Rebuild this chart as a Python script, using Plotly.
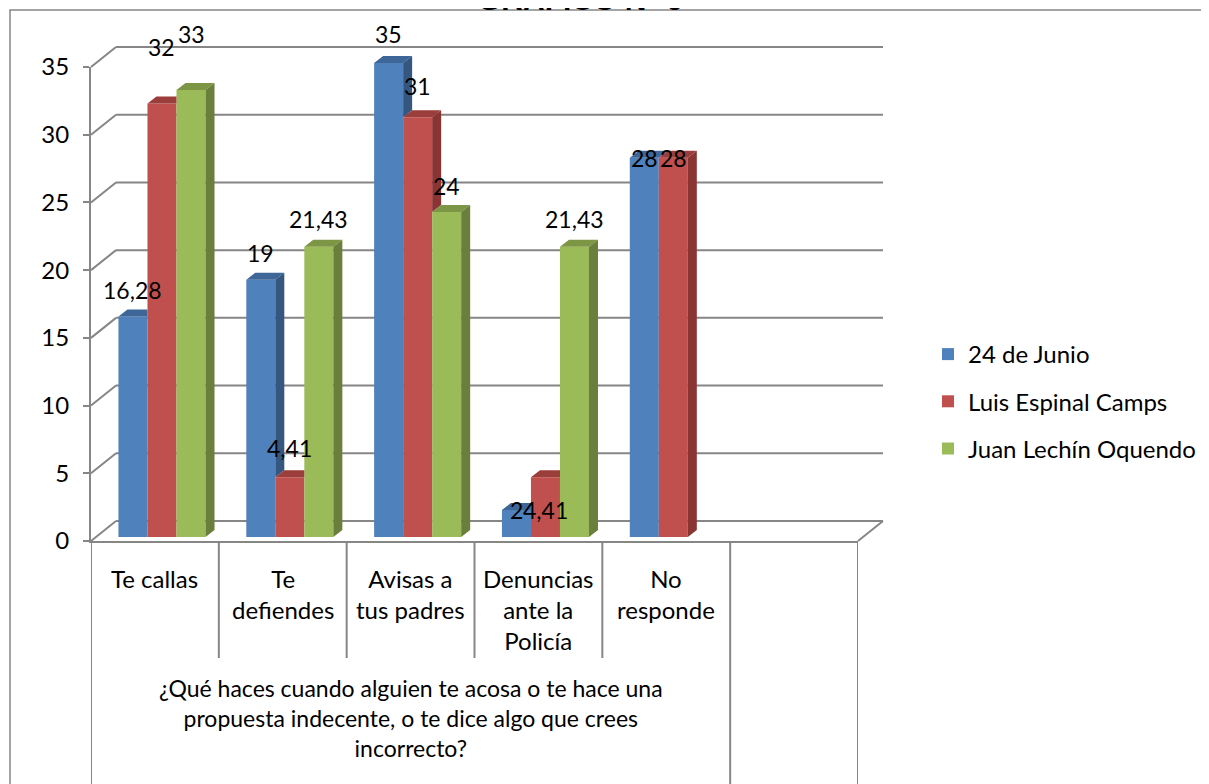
import plotly.graph_objects as go

# data
categories = ["Te callas", "Te<br>defiendes", "Avisas a<br>tus padres",
              "Denuncias<br>ante la<br>Policía", "No<br>responde"]
series_names = ["24 de Junio", "Luis Espinal Camps", "Juan Lechín Oquendo"]
junio = [16.28, 19, 35, 2, 28]
espinal = [32, 4.41, 31, 4.41, 28]
lechin = [33, 21.43, 24, 21.43, None]
y_ticks = [0, 5, 10, 15, 20, 25, 30, 35]
question = ("¿Qué haces cuando alguien te acosa o te hace una<br>"
            "propuesta indecente, o te dice algo que crees<br>incorrecto?")
title = "GRÁFICO N° 9"

# styles
front_colors = ["#4F81BD", "#C0504D", "#9BBB59"]
top_colors = ["#3E6699", "#9B3D3B", "#7C9645"]
side_colors = ["#34567F", "#8A3533", "#6A7F3B"]
# pixel lift of each value label above its bar (as placed in the original)
label_lift = [[27, 27, 29, 0, 0], [57, 29, 31, -33, 0], [56, 28, 26, 28, 0]]
grid_color = "#868686"
FONT = "Lato, Carlito, Calibri, sans-serif"

# the page puts the plot 8px in from the window corner
PAGE = 8
W, H = 1209 - PAGE, 784 - PAGE
PX = (541 - 67) / 35  # pixels per unit


def fx(p):
    return (p - PAGE) / W


def fy(p):
    return 1 - (p - PAGE) / H


def y_front(v):
    return 541 - v * PX


BACK_DX, BACK_DY = 25, -20
BAR_DX, BAR_DY = 7, -4
bar_base = 541 + BAR_DY
bar_top_val = 37

n_slots = 6
bar_w = 0.227
offsets = [-0.34, -0.34 + bar_w, -0.34 + 2 * bar_w]
DX = 9 / ((858 - 91) / n_slots)
DY = 7 / PX

values = [junio, espinal, lechin]
fig = go.Figure()

for j, vals in enumerate(values):
    xs = [i for i, v in enumerate(vals) if v is not None]
    ys = [v for v in vals if v is not None]
    fig.add_trace(go.Bar(
        x=xs, y=ys, width=bar_w, offset=offsets[j], name=series_names[j],
        marker=dict(color=front_colors[j], line=dict(width=0)),
        legendgroup=series_names[j],
    ))

# 3D faces (top and side), hidden where the next bar covers them
for j, vals in enumerate(values):
    tx, ty, sx, sy = [], [], [], []
    for i, v in enumerate(vals):
        if v is None:
            continue
        nxt = values[j + 1][i] if j + 1 < len(values) else None
        vn = nxt if nxt is not None else 0
        xl = i + offsets[j]
        xr = xl + bar_w
        if vn >= v + DY:
            tx += [xl, xr, xr, xl + DX, xl, None]
        else:
            tx += [xl, xr, xr + DX, xl + DX, xl, None]
        ty += [v, v, v + DY, v + DY, v, None]
        if v > vn:
            sx += [xr, xr + DX, xr + DX, xr, xr, None]
            sy += [vn, vn + DY, v + DY, v, vn, None]
    for px_, py_, col in ((tx, ty, top_colors[j]), (sx, sy, side_colors[j])):
        if px_:
            fig.add_trace(go.Scatter(
                x=px_, y=py_, mode="lines", fill="toself", fillcolor=col,
                line=dict(width=0, color=col), hoverinfo="skip",
                showlegend=False, legendgroup=series_names[j],
            ))

# value labels
for j, vals in enumerate(values):
    for i, v in enumerate(vals):
        if v is None:
            continue
        fig.add_annotation(
            x=i + offsets[j] + bar_w / 2, y=v, xref="x", yref="y",
            text=f"{v:g}".replace(".", ","), showarrow=False,
            yanchor="middle", yshift=label_lift[j][i],
            font=dict(family=FONT, size=23, color="black"),
        )

# category labels
for i, c in enumerate(categories):
    fig.add_annotation(
        x=i, y=fy(562), xref="x2", yref="paper", text=c, showarrow=False,
        yanchor="top", font=dict(family=FONT, size=24, color="black"),
    )
fig.add_annotation(
    x=2, y=fy(718), xref="x2", yref="paper", text=question,
    showarrow=False, yanchor="middle",
    font=dict(family=FONT, size=23, color="black"),
)
fig.add_annotation(
    x=fx(580), y=fy(18), xref="paper", yref="paper", text=f"<b>{title}</b>",
    showarrow=False, yanchor="bottom",
    font=dict(family="Liberation Sans, Arial", size=30, color="black"),
)

# walls, floor and category boxes
line = dict(color=grid_color, width=2)
shapes = []
for v in y_ticks:
    yf = y_front(v)
    shapes.append(dict(type="line", xref="paper", yref="paper", layer="below",
                       x0=fx(91 + BACK_DX), x1=fx(858 + BACK_DX),
                       y0=fy(yf + BACK_DY), y1=fy(yf + BACK_DY), line=line))
    shapes.append(dict(type="line", xref="paper", yref="paper", layer="below",
                       x0=fx(91), x1=fx(91 + BACK_DX),
                       y0=fy(yf), y1=fy(yf + BACK_DY), line=line))
shapes.append(dict(type="line", xref="paper", yref="paper", layer="below",
                   x0=fx(858), x1=fx(858 + BACK_DX),
                   y0=fy(541), y1=fy(541 + BACK_DY), line=line))
for k in range(n_slots + 1):
    bottom = 800 if k in (0, 5, 6) else 658
    shapes.append(dict(type="line", xref="x2", yref="paper",
                       x0=k - 0.5, x1=k - 0.5, y0=fy(541), y1=fy(bottom),
                       line=line))
shapes.append(dict(type="rect", xref="paper", yref="paper",
                   x0=fx(10), x1=fx(1230), y0=fy(10), y1=fy(810),
                   line=dict(color=grid_color, width=1.5)))

fig.update_layout(
    width=W, height=H,
    margin=dict(l=0, r=0, t=0, b=0, autoexpand=False),
    paper_bgcolor="white", plot_bgcolor="rgba(0,0,0,0)",
    barmode="overlay",
    shapes=shapes,
    xaxis=dict(domain=[fx(91 + BAR_DX), fx(858 + BAR_DX)],
               range=[-0.5, n_slots - 0.5], visible=False, anchor="y"),
    yaxis=dict(domain=[fy(bar_base), fy(bar_base - bar_top_val * PX)],
               range=[0, bar_top_val], visible=False, anchor="x"),
    xaxis2=dict(domain=[fx(91), fx(858)], range=[-0.5, n_slots - 0.5],
                anchor="y2", showgrid=False, zeroline=False,
                showticklabels=False, showline=True,
                linecolor=grid_color, linewidth=2),
    yaxis2=dict(domain=[fy(541), fy(67)], range=[0, 35], anchor="x2",
                tickvals=y_ticks, ticks="outside", ticklen=6,
                tickcolor=grid_color, tickwidth=2, showgrid=False,
                zeroline=False, showline=True, linecolor=grid_color,
                linewidth=2, ticklabelstandoff=9,
                tickfont=dict(family=FONT, size=24, color="black")),
    legend=dict(x=fx(928), y=fy(332), xanchor="left", yanchor="top",
                tracegroupgap=13, bgcolor="rgba(0,0,0,0)",
                font=dict(family=FONT, size=24, color="black")),
    showlegend=True,
)

fig.write_html("out.html")
